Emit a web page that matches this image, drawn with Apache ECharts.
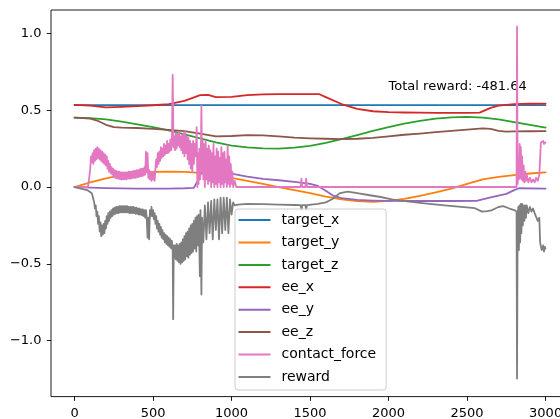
<!DOCTYPE html>
<html><head><meta charset="utf-8">
<script src="https://cdn.jsdelivr.net/npm/echarts@6/dist/echarts.min.js"></script>
<style>html,body{margin:0;padding:0;background:#fff}#c{width:560px;height:419px}</style>
</head><body><div id="c"></div>
<script>
const seriesNames = ['target_x','target_y','target_z','ee_x','ee_y','ee_z','contact_force','reward'];
const colors = ['#1f77b4','#ff7f0e','#2ca02c','#d62728','#9467bd','#8c564b','#e377c2','#7f7f7f'];
const xTicks = [0,500,1000,1500,2000,2500,3000];
const yTicks = [-1,-0.5,0,0.5,1];
const totalRewardText = 'Total reward: -481.64';

const targetX = [[0,0.533],[2999,0.533]];
const targetY = [[0,0],[100,0.03],[200,0.056],[300,0.078],[400,0.092],[500,0.099],[600,0.1],[700,0.098],[800,0.092],[900,0.078],[1000,0.06],[1100,0.04],[1200,0.02],[1300,0.0],[1400,-0.02],[1500,-0.04],[1600,-0.062],[1700,-0.08],[1800,-0.092],[1900,-0.097],[2000,-0.09],[2100,-0.077],[2200,-0.057],[2300,-0.035],[2400,-0.01],[2500,0.02],[2600,0.05],[2700,0.066],[2800,0.078],[2900,0.088],[3000,0.095]];
const targetZ = [[0,0.452],[100,0.448],[200,0.44],[300,0.425],[400,0.408],[500,0.39],[600,0.368],[700,0.342],[800,0.316],[900,0.29],[1000,0.27],[1100,0.258],[1200,0.251],[1300,0.25],[1400,0.256],[1500,0.268],[1600,0.288],[1700,0.312],[1800,0.338],[1900,0.365],[2000,0.39],[2100,0.412],[2200,0.43],[2300,0.445],[2400,0.453],[2500,0.456],[2600,0.452],[2700,0.44],[2800,0.423],[2900,0.404],[3000,0.386]];
const eeX = [[0,0.535],[100,0.53],[200,0.518],[300,0.522],[400,0.527],[500,0.532],[600,0.54],[700,0.56],[800,0.598],[850,0.6],[900,0.585],[1000,0.587],[1100,0.598],[1200,0.603],[1300,0.605],[1400,0.605],[1500,0.605],[1560,0.604],[1600,0.585],[1700,0.54],[1800,0.508],[1900,0.493],[2000,0.487],[2100,0.485],[2200,0.484],[2300,0.483],[2400,0.483],[2500,0.483],[2580,0.484],[2650,0.515],[2700,0.53],[2800,0.539],[2900,0.542],[3000,0.543]];
const eeY = [[0,0],[100,-0.004],[200,-0.007],[300,-0.009],[400,-0.01],[500,-0.01],[600,-0.01],[700,-0.008],[760,-0.005],[790,0.05],[810,0.1],[900,0.095],[1000,0.087],[1100,0.068],[1200,0.053],[1300,0.044],[1400,0.033],[1500,0.02],[1550,0.007],[1600,-0.025],[1650,-0.058],[1700,-0.073],[1800,-0.084],[1900,-0.088],[2000,-0.09],[2200,-0.091],[2400,-0.091],[2560,-0.09],[2650,-0.068],[2750,-0.045],[2800,-0.02],[2830,-0.008],[3000,-0.01]];
const eeZ = [[0,0.452],[100,0.445],[150,0.43],[200,0.405],[250,0.39],[300,0.387],[400,0.384],[500,0.378],[600,0.372],[700,0.364],[800,0.348],[900,0.33],[1000,0.332],[1100,0.338],[1200,0.336],[1300,0.33],[1400,0.322],[1500,0.317],[1600,0.314],[1700,0.312],[1800,0.314],[1900,0.32],[2000,0.33],[2100,0.34],[2200,0.348],[2300,0.357],[2400,0.366],[2500,0.374],[2600,0.381],[2650,0.378],[2700,0.366],[2750,0.36],[2800,0.362],[2900,0.363],[3000,0.364]];
const contactForce = [[0,0],[85,0],[90,0.03],[100,0.12],[105,0.2],[110,0.16],[115,0.22],[120,0.15],[125,0.24],[130,0.17],[135,0.25],[140,0.18],[145,0.26],[150,0.19],[155,0.25],[160,0.18],[165,0.24],[170,0.17],[175,0.23],[180,0.16],[185,0.22],[190,0.15],[195,0.21],[200,0.14],[205,0.2],[210,0.12],[215,0.17],[220,0.1],[225,0.15],[230,0.09],[235,0.13],[240,0.08],[245,0.12],[250,0.065],[255,0.11],[260,0.06],[265,0.105],[270,0.055],[275,0.1],[280,0.055],[285,0.1],[290,0.05],[295,0.095],[300,0.05],[305,0.095],[310,0.05],[315,0.095],[320,0.05],[325,0.095],[330,0.05],[335,0.095],[340,0.055],[345,0.1],[350,0.055],[355,0.1],[360,0.055],[365,0.1],[370,0.06],[375,0.105],[380,0.06],[385,0.105],[390,0.06],[395,0.11],[400,0.065],[405,0.11],[410,0.065],[415,0.115],[420,0.07],[425,0.12],[430,0.07],[435,0.12],[440,0.075],[445,0.13],[450,0.08],[455,0.23],[460,0.1],[465,0.22],[470,0.06],[475,0.11],[480,0.05],[485,0.1],[490,0.04],[495,0.09],[500,0.05],[505,0.1],[510,0.04],[515,0.12],[520,0.18],[525,0.13],[530,0.22],[535,0.15],[540,0.23],[545,0.17],[550,0.26],[555,0.19],[560,0.25],[565,0.2],[570,0.28],[575,0.21],[580,0.27],[585,0.22],[590,0.3],[595,0.22],[600,0.28],[605,0.23],[610,0.31],[615,0.24],[620,0.29],[625,0.73],[630,0.26],[635,0.33],[640,0.24],[645,0.35],[650,0.25],[655,0.34],[660,0.27],[665,0.36],[670,0.26],[675,0.33],[680,0.24],[685,0.34],[690,0.22],[695,0.35],[700,0.2],[705,0.36],[710,0.22],[715,0.33],[720,0.18],[725,0.32],[730,0.15],[735,0.3],[740,0.12],[745,0.28],[750,0.1],[755,0.3],[760,0.15],[765,0.28],[770,0.2],[775,0.3],[778,0.39],[782,0.0],[786,0.22],[790,0.02],[795,0.25],[800,0.05],[804,0.2],[808,0.53],[812,0.1],[816,0.3],[820,0.05],[825,0.28],[830,0.0],[835,0.3],[840,0.05],[845,0.25],[850,0.02],[855,0.27],[860,0.04],[865,0.24],[870,0.0],[875,0.22],[880,0.03],[885,0.28],[890,0.0],[895,0.2],[900,0.02],[905,0.25],[910,0.0],[915,0.23],[920,0.03],[925,0.19],[930,0.0],[935,0.26],[940,0.02],[945,0.22],[950,0.0],[955,0.23],[960,0.03],[965,0.18],[970,0.0],[975,0.27],[980,0.02],[985,0.2],[990,0.0],[995,0.15],[1000,0.02],[1005,0.1],[1010,0.0],[1020,0.04],[1030,0],[1440,0],[1445,0.055],[1450,0],[1470,0],[1475,0.055],[1480,0],[2815,0],[2818,1.045],[2822,0.02],[2826,0.15],[2830,0.05],[2835,0.28],[2838,0.06],[2842,0.26],[2846,0.05],[2850,0.2],[2855,0.04],[2860,0.14],[2865,0.03],[2870,0.1],[2875,0.04],[2880,0.08],[2890,0.03],[2900,0.06],[2910,0.03],[2920,0.05],[2930,0.03],[2940,0.06],[2950,0.04],[2960,0.08],[2965,0.18],[2970,0.29],[2980,0.28],[2985,0.3],[2990,0.28],[2999,0.29]];
const reward = [[0,0],[40,-0.01],[80,-0.02],[110,-0.04],[120,-0.08],[125,-0.1],[130,-0.14],[135,-0.12],[140,-0.19],[145,-0.16],[150,-0.24],[155,-0.19],[160,-0.29],[165,-0.23],[170,-0.32],[175,-0.25],[180,-0.31],[185,-0.24],[190,-0.3],[195,-0.22],[200,-0.27],[205,-0.19],[210,-0.24],[215,-0.17],[220,-0.22],[225,-0.16],[230,-0.2],[235,-0.15],[240,-0.19],[245,-0.14],[250,-0.18],[255,-0.135],[260,-0.175],[265,-0.13],[270,-0.17],[275,-0.13],[280,-0.17],[285,-0.125],[290,-0.165],[295,-0.125],[300,-0.165],[305,-0.125],[310,-0.165],[315,-0.125],[320,-0.165],[325,-0.125],[330,-0.165],[335,-0.125],[340,-0.165],[345,-0.13],[350,-0.17],[355,-0.13],[360,-0.17],[365,-0.13],[370,-0.17],[375,-0.13],[380,-0.17],[385,-0.135],[390,-0.175],[395,-0.135],[400,-0.175],[405,-0.14],[410,-0.18],[415,-0.14],[420,-0.18],[425,-0.145],[430,-0.185],[435,-0.145],[440,-0.19],[445,-0.15],[450,-0.2],[455,-0.15],[460,-0.21],[465,-0.33],[470,-0.2],[475,-0.34],[480,-0.15],[485,-0.19],[490,-0.13],[495,-0.19],[500,-0.15],[505,-0.21],[510,-0.17],[515,-0.24],[520,-0.19],[525,-0.27],[530,-0.22],[535,-0.29],[540,-0.24],[545,-0.31],[550,-0.26],[555,-0.33],[560,-0.28],[565,-0.34],[570,-0.3],[575,-0.36],[580,-0.31],[585,-0.37],[590,-0.32],[595,-0.38],[600,-0.33],[605,-0.39],[610,-0.34],[615,-0.4],[620,-0.35],[625,-0.41],[628,-0.86],[632,-0.38],[636,-0.46],[640,-0.38],[645,-0.47],[650,-0.37],[655,-0.48],[660,-0.38],[665,-0.49],[670,-0.37],[675,-0.5],[680,-0.36],[685,-0.49],[690,-0.34],[695,-0.48],[700,-0.32],[705,-0.47],[710,-0.3],[715,-0.45],[720,-0.29],[725,-0.46],[730,-0.27],[735,-0.44],[740,-0.25],[745,-0.43],[750,-0.24],[755,-0.42],[760,-0.22],[765,-0.4],[770,-0.2],[775,-0.42],[780,-0.19],[785,-0.38],[790,-0.18],[795,-0.4],[798,-0.58],[802,-0.15],[808,-0.7],[812,-0.2],[820,-0.36],[830,-0.12],[840,-0.34],[850,-0.1],[860,-0.3],[870,-0.09],[880,-0.34],[890,-0.08],[900,-0.28],[910,-0.08],[920,-0.34],[930,-0.07],[940,-0.3],[950,-0.07],[960,-0.28],[970,-0.07],[980,-0.3],[990,-0.08],[1000,-0.18],[1010,-0.1],[1020,-0.12],[1040,-0.115],[1100,-0.11],[1200,-0.112],[1300,-0.115],[1400,-0.117],[1440,-0.118],[1445,-0.15],[1450,-0.118],[1470,-0.118],[1475,-0.15],[1480,-0.118],[1550,-0.11],[1600,-0.1],[1640,-0.08],[1690,-0.04],[1740,-0.03],[1800,-0.04],[1870,-0.052],[1950,-0.065],[2020,-0.08],[2130,-0.095],[2230,-0.106],[2340,-0.118],[2445,-0.128],[2550,-0.138],[2595,-0.16],[2630,-0.157],[2660,-0.15],[2700,-0.13],[2730,-0.125],[2770,-0.14],[2800,-0.15],[2815,-0.16],[2818,-1.247],[2822,-0.2],[2826,-0.13],[2830,-0.41],[2834,-0.12],[2838,-0.36],[2842,-0.11],[2846,-0.3],[2850,-0.11],[2855,-0.25],[2860,-0.12],[2865,-0.22],[2870,-0.12],[2875,-0.2],[2880,-0.12],[2890,-0.17],[2900,-0.13],[2910,-0.16],[2920,-0.14],[2930,-0.17],[2940,-0.18],[2950,-0.22],[2960,-0.2],[2965,-0.36],[2975,-0.41],[2985,-0.38],[2990,-0.42],[2995,-0.39],[2999,-0.4]];

const allData = [targetX,targetY,targetZ,eeX,eeY,eeZ,contactForce,reward];
const font = "'DejaVu Sans', sans-serif";
const chart = echarts.init(document.getElementById('c'), null, {renderer:'canvas'});
const fmtY = v => (v < 0 ? '\u2212' : '') + Math.abs(v).toFixed(1);
chart.setOption({
  animation:false,
  backgroundColor:'#fff',
  color:colors,
  grid:{left:51,top:10,width:518,height:386.6,outerBoundsMode:'none',containLabel:false,show:true,borderColor:'#000',borderWidth:0.9,backgroundColor:'transparent'},
  xAxis:{type:'value',min:-150,max:3149,
    axisLine:{show:false,onZero:false},
    splitLine:{show:false},
    axisTick:{show:true,length:4.25,lineStyle:{color:'#000',width:0.9},customValues:xTicks},
    axisLabel:{customValues:xTicks,margin:11,color:'#000',fontFamily:font,fontSize:13,formatter:v=>String(v),hideOverlap:false}},
  yAxis:{type:'value',min:-1.364,max:1.152,
    axisLine:{show:false,onZero:false},
    splitLine:{show:false},
    axisTick:{show:true,length:4.25,lineStyle:{color:'#000',width:0.9},customValues:yTicks},
    axisLabel:{customValues:yTicks,margin:9.5,color:'#000',fontFamily:font,fontSize:13,formatter:fmtY}},
  legend:{orient:'vertical',left:235,top:209,
    data:seriesNames,
    icon:'rect',itemWidth:32,itemHeight:2,itemGap:0.2,
    padding:[0,10,2,3.5],
    backgroundColor:'rgba(255,255,255,0.8)',borderColor:'#cccccc',borderWidth:1,borderRadius:3,
    textStyle:{fontFamily:font,fontSize:14,color:'#000',lineHeight:22.2,padding:[0,0,0,6]}},
  series: seriesNames.map((n,i)=>({name:n,type:'line',data:allData[i],showSymbol:false,symbol:'none',
    lineStyle:{width:1.8,color:colors[i],join:'round',cap:'round'},itemStyle:{color:colors[i]},emphasis:{disabled:true},clip:true}))
});
const p = chart.convertToPixel({gridIndex:0},[2000,0.655]);
chart.setOption({graphic:[{type:'text',x:p[0],y:p[1],silent:true,style:{text:totalRewardText,font:"13px 'DejaVu Sans', sans-serif",fill:'#000',align:'left',verticalAlign:'middle'}}]});
</script></body></html>
